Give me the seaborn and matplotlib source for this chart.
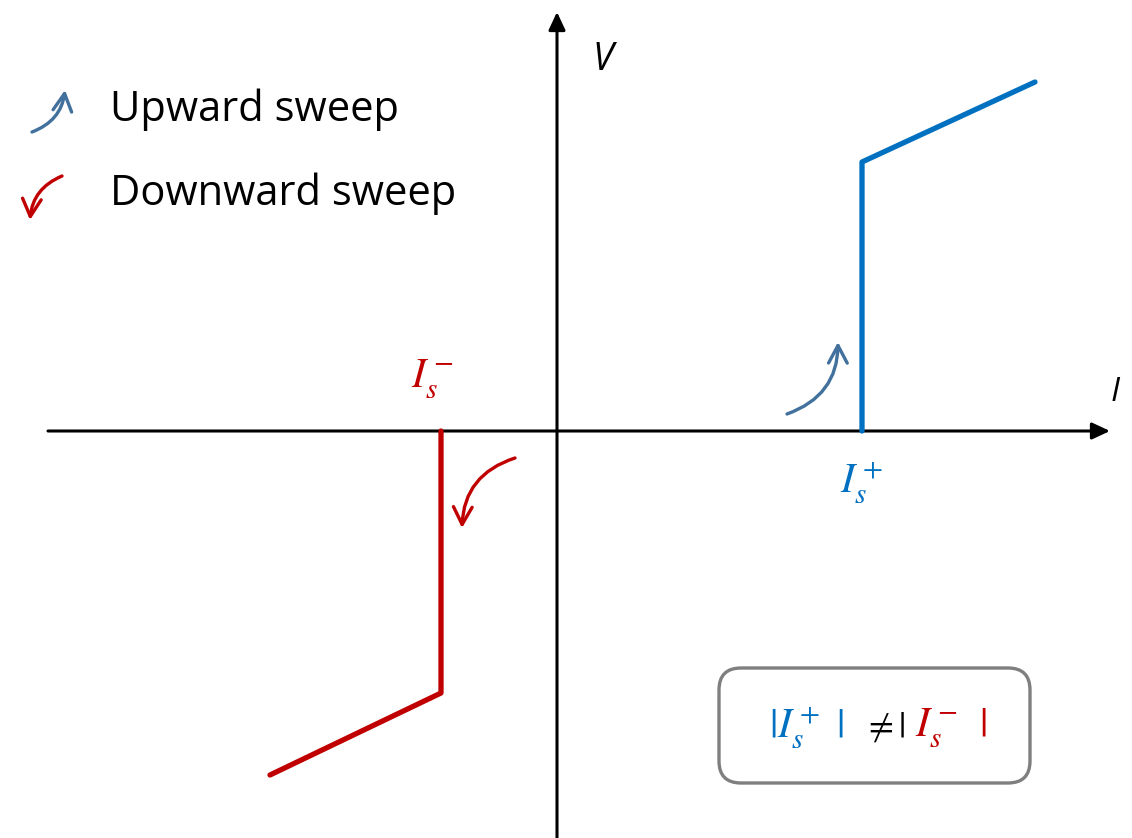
import matplotlib
matplotlib.use("Agg")
import matplotlib.pyplot as plt
import seaborn as sns
import pandas as pd
from matplotlib.patches import FancyArrowPatch, FancyBboxPatch

sns.set_theme(style="white")
plt.rcParams["font.family"] = ["Open Sans", "DejaVu Sans"]
plt.rcParams["mathtext.fontset"] = "stix"
plt.rcParams["text.color"] = "black"

# Critical currents (switching points) and the resistive branches
i_up = [305, 305, 478]          # upward sweep: I
v_up = [0, 269, 349]            # upward sweep: V
i_down = [-116, -116, -287]     # downward sweep: I
v_down = [0, -262, -344]        # downward sweep: V

legend_labels = ["Upward sweep", "Downward sweep"]

BLUE = "#0070C0"
RED = "#C00000"
ARROW_BLUE = "#41719C"

fig = plt.figure(figsize=(11.32, 8.38), dpi=100)
ax = fig.add_axes([0, 0, 1, 1])

# Coordinate axes with arrow heads
axis_style = "-|>,head_length=0.6,head_width=0.28"
ax.add_patch(FancyArrowPatch((-509, 0), (553, 0), arrowstyle=axis_style,
                             mutation_scale=18, lw=2.2, color="black",
                             shrinkA=0, shrinkB=0, zorder=2))
ax.add_patch(FancyArrowPatch((0, -410), (0, 419), arrowstyle=axis_style,
                             mutation_scale=18, lw=2.2, color="black",
                             shrinkA=0, shrinkB=0, zorder=2))

# I-V branches
df_up = pd.DataFrame({"I": i_up, "V": v_up})
df_down = pd.DataFrame({"I": i_down, "V": v_down})
sns.lineplot(data=df_up, x="I", y="V", sort=False, estimator=None,
             color=BLUE, lw=3.8, ax=ax, zorder=3)
sns.lineplot(data=df_down, x="I", y="V", sort=False, estimator=None,
             color=RED, lw=3.8, ax=ax, zorder=3)
ax.set_xlim(-557, 575)
ax.set_ylim(-407, 431)
ax.axis("off")

# Axis labels
ax.text(46, 371, "V", fontsize=27, style="italic", ha="center", va="center")
ax.text(558, 39, "I", fontsize=24, style="italic", ha="center", va="center")

# Switching current labels
ax.text(-124, 52, r"$I_s^-$", fontsize=30, color=RED, ha="center", va="center")
ax.text(305, -52, r"$I_s^+$", fontsize=30, color=BLUE, ha="center", va="center")


def curved_arrow(start, end, color, rad):
    ax.add_patch(FancyArrowPatch(start, end,
                                 connectionstyle=f"arc3,rad={rad}",
                                 arrowstyle="->,head_length=0.6,head_width=0.32",
                                 mutation_scale=21, lw=2.4, color=color,
                                 shrinkA=0, shrinkB=0, zorder=4))


# Sweep direction arrows on the plot
curved_arrow((230, 17), (281, 89), ARROW_BLUE, 0.35)
curved_arrow((-42, -27), (-95, -97), RED, 0.35)

# Legend
curved_arrow((-525, 299), (-492, 341), ARROW_BLUE, 0.3)
curved_arrow((-495, 255), (-527, 211), RED, 0.3)
ax.text(-447, 321, legend_labels[0], fontsize=30, ha="left", va="center")
ax.text(-447, 237, legend_labels[1], fontsize=30, ha="left", va="center")

# Inequality box
box = FancyBboxPatch((162, -352), 311, 115,
                     boxstyle="round,pad=0,rounding_size=22",
                     fc="white", ec="#7F7F7F", lw=2.4, zorder=3)
ax.add_patch(box)
ax.text(212, -297, r"$|I_s^+\ |$", fontsize=30, color=BLUE,
        ha="left", va="center", zorder=4)
ax.text(306, -297, r"$\neq|$", fontsize=26, color="black",
        ha="left", va="center", zorder=4)
ax.text(358, -297, r"$I_s^-\ \,|$", fontsize=30, color=RED,
        ha="left", va="center", zorder=4)

fig.savefig("out.png", dpi=100)
